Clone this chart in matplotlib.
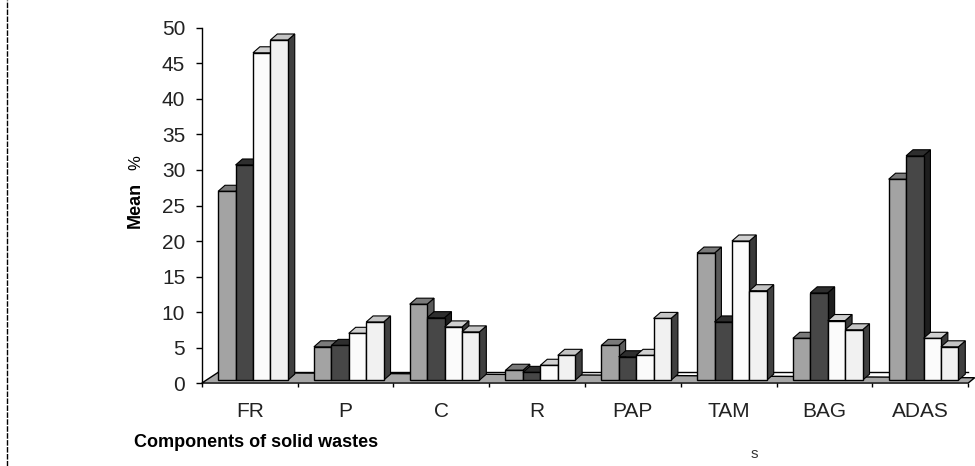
import numpy as np
import matplotlib.pyplot as plt
from matplotlib.patches import Polygon
from matplotlib.lines import Line2D

plt.rcParams['font.family'] = ['Liberation Sans', 'DejaVu Sans']

# data
categories = ['FR', 'P', 'C', 'R', 'PAP', 'TAM', 'BAG', 'ADAS']
series1 = [27.0, 5.1, 11.1, 1.8, 5.3, 18.3, 6.3, 28.7]
series2 = [30.7, 5.3, 9.2, 1.5, 3.7, 8.6, 12.7, 32.0]
series3 = [46.5, 7.0, 7.9, 2.5, 3.9, 20.0, 8.8, 6.3]
series4 = [48.3, 8.6, 7.2, 3.9, 9.1, 13.0, 7.5, 5.1]
yticks = np.arange(0, 51, 5)

series = [series1, series2, series3, series4]
# front, side, top colours for each series
styles = [('#a3a3a3', '#5a5a5a', '#7a7a7a'),
          ('#474747', '#1e1e1e', '#2e2e2e'),
          ('#fbfbfb', '#3a3a3a', '#d0d0d0'),
          ('#f1f1f1', '#404040', '#c4c4c4')]

fig = plt.figure(figsize=(9.75, 4.66), dpi=100)
ax = fig.add_axes([0.207, 0.178, 0.786, 0.762])
ax.set_xlim(0, len(categories))
ax.set_ylim(0, 50)

# depth offsets for the 3d look
dx, dy = 0.072, 0.85
fdx, fdy = 0.17, 1.5
base = 0.4
offset, width = 0.17, 0.182

# floor
floor = Polygon([(0, 0), (len(categories), 0), (len(categories) + fdx * 0.4, fdy * 0.5),
                 (fdx, fdy), (0.0, 0.0)],
                closed=True, facecolor='#a6a6a6', edgecolor='black', lw=1.0,
                clip_on=False, zorder=1)
ax.add_patch(floor)
ax.plot([fdx, len(categories)], [fdy, fdy], color='black', lw=1.0, zorder=1.5, clip_on=False)

z = 2
for i in range(len(categories)):
    for k, vals in enumerate(series):
        v = vals[i]
        x0 = i + offset + k * width
        x1 = x0 + width
        front_c, side_c, top_c = styles[k]
        side = Polygon([(x1, base), (x1 + dx, base + dy), (x1 + dx, v + dy), (x1, v)],
                       closed=True, facecolor=side_c, edgecolor='black', lw=0.8,
                       zorder=z, clip_on=False)
        top = Polygon([(x0, v), (x0 + dx, v + dy), (x1 + dx, v + dy), (x1, v)],
                      closed=True, facecolor=top_c, edgecolor='black', lw=0.8,
                      zorder=z, clip_on=False)
        front = Polygon([(x0, base), (x1, base), (x1, v), (x0, v)],
                        closed=True, facecolor=front_c, edgecolor='black', lw=1.0,
                        zorder=z + 0.5, clip_on=False)
        ax.add_patch(side)
        ax.add_patch(top)
        ax.add_patch(front)
        z += 1

# axes styling
for s in ['top', 'right', 'bottom']:
    ax.spines[s].set_visible(False)
ax.spines['left'].set_linewidth(1.0)
ax.spines['left'].set_linestyle((0, (6, 1)))

ax.set_yticks(yticks)
ax.set_yticklabels([str(t) for t in yticks], fontsize=15, color='#222222')
ax.tick_params(axis='y', direction='out', length=4, width=1, pad=8)

ax.set_xticks(np.arange(0, len(categories) + 1))
ax.set_xticklabels([])
ax.set_xticks(np.arange(len(categories)) + 0.5, minor=True)
ax.set_xticklabels(categories, minor=True, fontsize=15, color='#222222')
ax.tick_params(axis='x', which='major', direction='out', length=3, width=1)
ax.tick_params(axis='x', which='minor', length=0, pad=14)

fig.text(0.263, 0.05, 'Components of solid wastes', fontsize=13, fontweight='bold',
         ha='center', va='center')
fig.text(0.774, 0.025, 's', fontsize=11, ha='center', va='center', color='#333333')
fig.text(0.139, 0.56, 'Mean', fontsize=13, fontweight='bold', rotation=90,
         ha='center', va='center')
fig.text(0.139, 0.652, '%', fontsize=12, rotation=90, ha='center', va='center')

# dashed frame line on the left
fig.add_artist(Line2D([0.007, 0.007], [0.0, 1.0], transform=fig.transFigure,
                      color='black', lw=1.0, linestyle=(0, (4, 1))))

fig.savefig('out.png', dpi=100)
